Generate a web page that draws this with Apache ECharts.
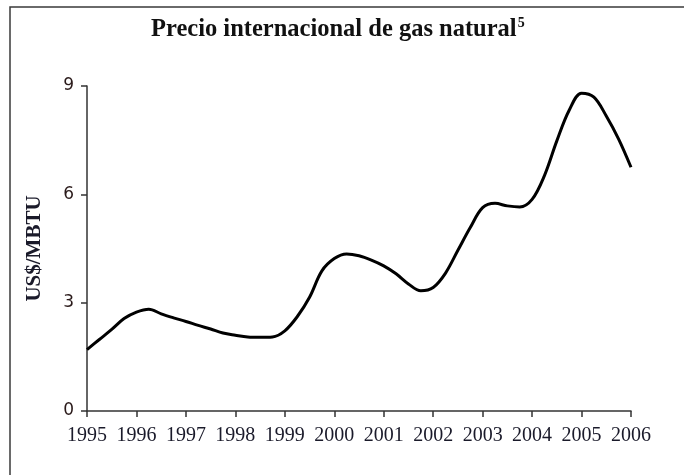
<!DOCTYPE html>
<html>
<head>
<meta charset="utf-8">
<script src="https://cdn.jsdelivr.net/npm/echarts@6/dist/echarts.min.js"></script>
<style>
html,body{margin:0;padding:0;background:#fff;}
#c{width:684px;height:475px;}
</style>
</head>
<body>
<div id="c"></div>
<script>
// Quarterly time points (year fractions) and prices in US$/MBTU
var periods = [
  1995.00,1995.25,1995.50,1995.75,
  1996.00,1996.25,1996.50,1996.75,
  1997.00,1997.25,1997.50,1997.75,
  1998.00,1998.25,1998.50,1998.75,
  1999.00,1999.25,1999.50,1999.75,
  2000.00,2000.25,2000.50,2000.75,
  2001.00,2001.25,2001.50,2001.75,
  2002.00,2002.25,2002.50,2002.75,
  2003.00,2003.25,2003.50,2003.75,
  2004.00,2004.25,2004.50,2004.75,
  2005.00,2005.25,2005.50,2005.75,
  2006.00
];
var prices = [
  1.70,1.98,2.26,2.56,
  2.74,2.82,2.69,2.58,
  2.48,2.37,2.27,2.16,
  2.10,2.05,2.04,2.05,
  2.22,2.61,3.15,3.88,
  4.22,4.35,4.30,4.18,
  4.02,3.80,3.52,3.33,
  3.42,3.82,4.45,5.08,
  5.63,5.75,5.68,5.65,
  5.86,6.52,7.48,8.33,
  8.80,8.69,8.17,7.53,
  6.75
];
var yearLabels = ['1995','1996','1997','1998','1999','2000','2001','2002','2003','2004','2005','2006'];
var yTicks = ['0','3','6','9'];
var titleText = 'Precio internacional de gas natural';
var titleSup = '5';
var yName = 'US$/MBTU';

var seriesData = periods.map(function(p, i){ return [p, prices[i]]; });

var chart = echarts.init(document.getElementById('c'), null, {renderer:'canvas'});
chart.setOption({
  backgroundColor:'#ffffff',
  animation:false,
  graphic:[{
    type:'rect', silent:true, z:-1,
    shape:{x:10, y:7, width:720, height:520},
    style:{fill:'none', stroke:'#3a3a3a', lineWidth:1.5}
  }],
  title:{
    text:'{t|' + titleText + '}{s|' + titleSup + '}',
    left:146, top:11,
    textStyle:{
      rich:{
        t:{fontFamily:'Liberation Serif', fontWeight:'bold', fontSize:24.5, color:'#111', lineHeight:28},
        s:{fontFamily:'Liberation Serif', fontWeight:'bold', fontSize:14, color:'#111', verticalAlign:'top', lineHeight:28, padding:[0,0,12,1]}
      }
    }
  },
  grid:{left:87, right:53, top:86, bottom:64, containLabel:false},
  xAxis:{
    type:'value', min:1995, max:2006, interval:1,
    axisLine:{show:true, lineStyle:{color:'#333', width:1.5}},
    axisTick:{show:true, inside:false, length:6, lineStyle:{color:'#333', width:1.5}},
    splitLine:{show:false},
    axisLabel:{
      margin:15,
      fontFamily:'Liberation Serif', fontSize:20, color:'#1a1a2a',
      formatter:function(v){ var i = Math.round(v - 1995); return yearLabels[i] || ''; }
    }
  },
  yAxis:{
    type:'value', min:0, max:9, interval:3,
    name:yName, nameLocation:'middle', nameGap:42, nameRotate:90,
    nameTextStyle:{fontFamily:'Liberation Serif', fontWeight:'bold', fontSize:21, color:'#1a1a2a'},
    axisLine:{show:true, lineStyle:{color:'#333', width:1.5}},
    axisTick:{show:true, inside:false, length:6, lineStyle:{color:'#333', width:1.5}},
    splitLine:{show:false},
    axisLabel:{
      margin:13,
      fontFamily:'DejaVu Sans', fontSize:17, color:'#2a1a1a',
      formatter:function(v){ var i = Math.round(v/3); return yTicks[i] || ''; }
    }
  },
  series:[{
    type:'line',
    data:seriesData,
    smooth:0.35,
    showSymbol:false,
    lineStyle:{color:'#000', width:3},
    z:3
  }]
});
</script>
</body>
</html>
